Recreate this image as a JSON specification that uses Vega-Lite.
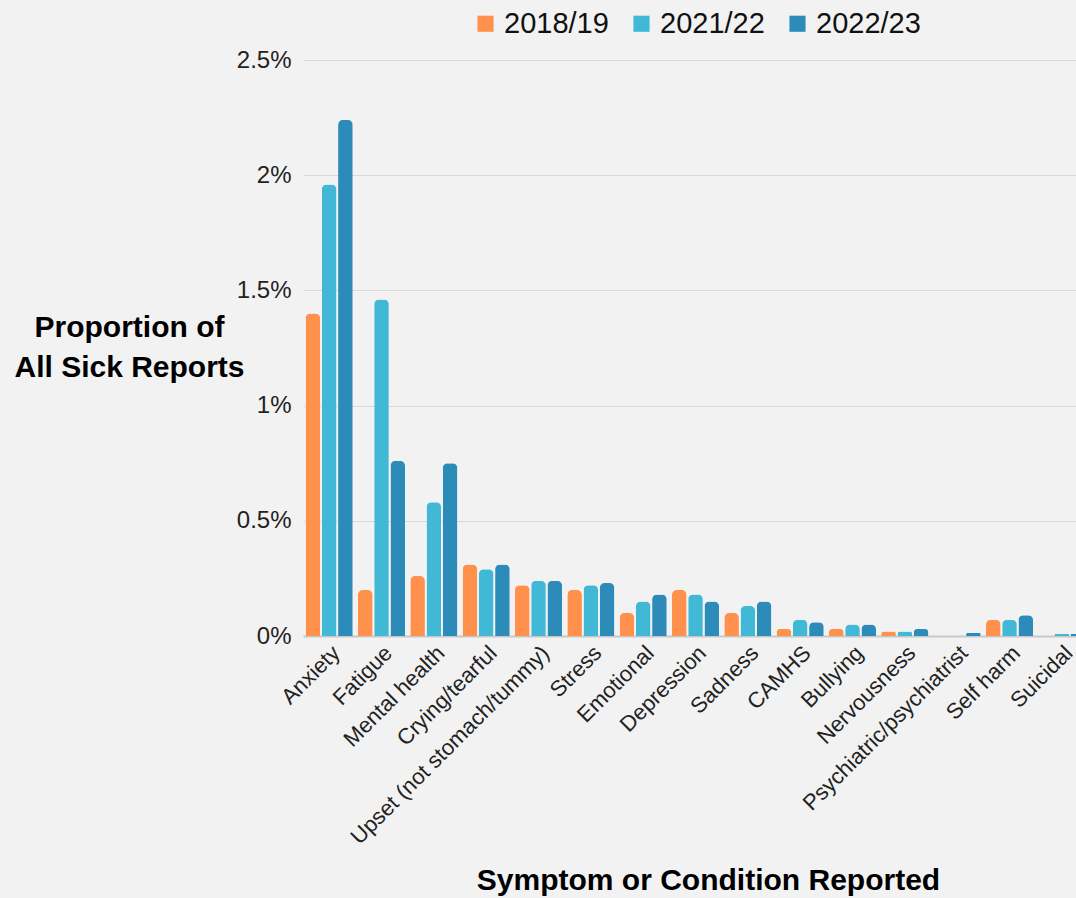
{
  "$schema": "https://vega.github.io/schema/vega-lite/v6.json",
  "width": 773,
  "height": 576,
  "autosize": {"type": "none"},
  "padding": {"left": 303, "top": 60, "right": 0, "bottom": 262},
  "background": "#f2f2f2",
  "config": {"font": "Liberation Sans", "view": {"stroke": null}},
  "data": {
    "values": [
      {"symptom": "Anxiety", "year": "2018/19", "pct": 1.40},
      {"symptom": "Anxiety", "year": "2021/22", "pct": 1.96},
      {"symptom": "Anxiety", "year": "2022/23", "pct": 2.24},
      {"symptom": "Fatigue", "year": "2018/19", "pct": 0.20},
      {"symptom": "Fatigue", "year": "2021/22", "pct": 1.46},
      {"symptom": "Fatigue", "year": "2022/23", "pct": 0.76},
      {"symptom": "Mental health", "year": "2018/19", "pct": 0.26},
      {"symptom": "Mental health", "year": "2021/22", "pct": 0.58},
      {"symptom": "Mental health", "year": "2022/23", "pct": 0.75},
      {"symptom": "Crying/tearful", "year": "2018/19", "pct": 0.31},
      {"symptom": "Crying/tearful", "year": "2021/22", "pct": 0.29},
      {"symptom": "Crying/tearful", "year": "2022/23", "pct": 0.31},
      {"symptom": "Upset (not stomach/tummy)", "year": "2018/19", "pct": 0.22},
      {"symptom": "Upset (not stomach/tummy)", "year": "2021/22", "pct": 0.24},
      {"symptom": "Upset (not stomach/tummy)", "year": "2022/23", "pct": 0.24},
      {"symptom": "Stress", "year": "2018/19", "pct": 0.20},
      {"symptom": "Stress", "year": "2021/22", "pct": 0.22},
      {"symptom": "Stress", "year": "2022/23", "pct": 0.23},
      {"symptom": "Emotional", "year": "2018/19", "pct": 0.10},
      {"symptom": "Emotional", "year": "2021/22", "pct": 0.15},
      {"symptom": "Emotional", "year": "2022/23", "pct": 0.18},
      {"symptom": "Depression", "year": "2018/19", "pct": 0.20},
      {"symptom": "Depression", "year": "2021/22", "pct": 0.18},
      {"symptom": "Depression", "year": "2022/23", "pct": 0.15},
      {"symptom": "Sadness", "year": "2018/19", "pct": 0.10},
      {"symptom": "Sadness", "year": "2021/22", "pct": 0.13},
      {"symptom": "Sadness", "year": "2022/23", "pct": 0.15},
      {"symptom": "CAMHS", "year": "2018/19", "pct": 0.03},
      {"symptom": "CAMHS", "year": "2021/22", "pct": 0.07},
      {"symptom": "CAMHS", "year": "2022/23", "pct": 0.06},
      {"symptom": "Bullying", "year": "2018/19", "pct": 0.03},
      {"symptom": "Bullying", "year": "2021/22", "pct": 0.05},
      {"symptom": "Bullying", "year": "2022/23", "pct": 0.05},
      {"symptom": "Nervousness", "year": "2018/19", "pct": 0.02},
      {"symptom": "Nervousness", "year": "2021/22", "pct": 0.02},
      {"symptom": "Nervousness", "year": "2022/23", "pct": 0.03},
      {"symptom": "Psychiatric/psychiatrist", "year": "2018/19", "pct": 0},
      {"symptom": "Psychiatric/psychiatrist", "year": "2021/22", "pct": 0},
      {"symptom": "Psychiatric/psychiatrist", "year": "2022/23", "pct": 0.013},
      {"symptom": "Self harm", "year": "2018/19", "pct": 0.07},
      {"symptom": "Self harm", "year": "2021/22", "pct": 0.07},
      {"symptom": "Self harm", "year": "2022/23", "pct": 0.09},
      {"symptom": "Suicidal", "year": "2018/19", "pct": 0},
      {"symptom": "Suicidal", "year": "2021/22", "pct": 0.01},
      {"symptom": "Suicidal", "year": "2022/23", "pct": 0.01}
    ]
  },
  "mark": {"type": "bar", "cornerRadiusTopLeft": 5, "cornerRadiusTopRight": 5},
  "encoding": {
    "x": {
      "field": "symptom",
      "type": "nominal",
      "sort": null,
      "scale": {"range": [0, 785], "paddingInner": 0.1, "paddingOuter": 0.05},
      "axis": {
        "title": "Symptom or Condition Reported",
        "titleFontSize": 30,
        "titleFontWeight": "bold",
        "titleColor": "#000000",
        "titleX": 405,
        "titleY": 253,
        "titleAlign": "center",
        "titleBaseline": "alphabetic",
        "labelAngle": -45,
        "labelFontSize": 22,
        "labelColor": "#222222",
        "labelLimit": 400,
        "labelPadding": 6,
        "ticks": false,
        "domainColor": "#c8c8c8",
        "domainWidth": 2
      }
    },
    "xOffset": {"field": "year", "type": "nominal", "scale": {"paddingInner": 0.1}},
    "y": {
      "field": "pct",
      "type": "quantitative",
      "scale": {"domain": [0, 2.5]},
      "axis": {
        "values": [0, 0.5, 1, 1.5, 2, 2.5],
        "labelExpr": "datum.value + '%'",
        "labelFontSize": 24,
        "labelColor": "#222222",
        "labelPadding": 12,
        "domain": false,
        "ticks": false,
        "gridColor": "#d9d9d9",
        "title": ["Proportion of", "All Sick Reports"],
        "titleAngle": 0,
        "titleFontSize": 30,
        "titleFontWeight": "bold",
        "titleColor": "#000000",
        "titleAlign": "center",
        "titleBaseline": "alphabetic",
        "titleX": -174,
        "titleY": 276,
        "titleLineHeight": 40
      }
    },
    "color": {
      "field": "year",
      "type": "nominal",
      "scale": {"domain": ["2018/19", "2021/22", "2022/23"], "range": ["#FF914D", "#41B8D6", "#2D8BBA"]},
      "legend": {
        "orient": "none",
        "legendX": 168,
        "legendY": -51,
        "direction": "horizontal",
        "title": null,
        "symbolType": "square",
        "symbolSize": 260,
        "symbolStrokeWidth": 0,
        "labelFontSize": 29,
        "labelColor": "#111111",
        "labelOffset": 4,
        "columnPadding": 18
      }
    }
  }
}
